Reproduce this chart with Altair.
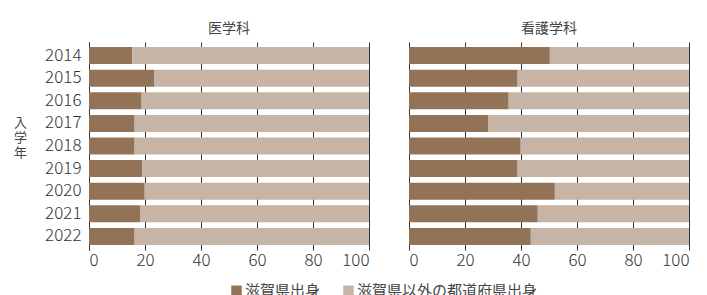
import altair as alt
import pandas as pd

years = [2014, 2015, 2016, 2017, 2018, 2019, 2020, 2021, 2022]
departments = ["医学科", "看護学科"]
categories = ["滋賀県出身", "滋賀県以外の都道府県出身"]

med_shiga = [15.5, 23.4, 18.8, 16.3, 16.3, 19.1, 19.9, 18.4, 16.3]
med_other = [84.5, 76.6, 81.2, 83.7, 83.7, 80.9, 80.1, 81.6, 83.7]
nur_shiga = [50.3, 38.8, 35.6, 28.4, 39.9, 38.8, 52.1, 46.0, 43.5]
nur_other = [49.7, 61.2, 64.4, 71.6, 60.1, 61.2, 47.9, 54.0, 56.5]

x_ticks = [0, 20, 40, 60, 80, 100]
colors = ["#937358", "#c6b5a6"]

rows = []
for dept, shiga, other in [("医学科", med_shiga, med_other), ("看護学科", nur_shiga, nur_other)]:
    for i, y in enumerate(years):
        rows.append({"dept": dept, "year": str(y), "category": categories[0], "order": 0, "value": shiga[i]})
        rows.append({"dept": dept, "year": str(y), "category": categories[1], "order": 1, "value": other[i]})
df = pd.DataFrame(rows)

FONT = "Noto Sans CJK JP"

chart = alt.Chart(df).mark_bar(size=17).encode(
    x=alt.X("value:Q", stack="zero", scale=alt.Scale(domain=[0, 100], nice=False),
            axis=alt.Axis(values=x_ticks, title=None, grid=True, gridColor="#333", gridWidth=1,
                          ticks=False, domain=False, labelFontSize=17, labelColor="#333",
                          labelPadding=2, labelFont=FONT, labelFontWeight=300)),
    y=alt.Y("year:O", sort=[str(y) for y in years],
            scale=alt.Scale(paddingInner=0.2, paddingOuter=0.2),
            axis=alt.Axis(title=["入", "学", "年"], titleAngle=0, titleAlign="center",
                          titleBaseline="middle", titleFontSize=13, titleFontWeight="normal",
                          titleColor="#444", titleFont=FONT, titleLineHeight=15,
                          titleX=-69, titleY=80,
                          ticks=False, domain=True, domainColor="#333", labelFontSize=17,
                          labelColor="#333", labelPadding=8, labelFont=FONT, labelFontWeight=300)),
    color=alt.Color("category:N", scale=alt.Scale(domain=categories, range=colors),
                    legend=alt.Legend(orient="none", legendX=140, legendY=241, direction="horizontal",
                                      title=None, symbolType="square", symbolSize=110,
                                      symbolStrokeWidth=0, labelFontSize=15, labelColor="#444",
                                      labelFont=FONT, labelLimit=400, columnPadding=20,
                                      labelOffset=1)),
    order=alt.Order("order:Q"),
).properties(width=280, height=208).facet(
    column=alt.Column("dept:N", sort=departments,
                      header=alt.Header(title=None, labelFontSize=14, labelColor="#444",
                                        labelFont=FONT, labelPadding=6)),
    spacing=40,
).properties(
    title=alt.TitleParams("入学者に占める滋賀県出身者の割合", fontSize=22, font=FONT,
                          color="#333", anchor="middle", offset=12),
    padding={"top": -21, "left": 5, "right": 5, "bottom": 0},
).configure_view(stroke=None)

chart.save("out.html", embed_options={"renderer": "svg", "actions": False})
